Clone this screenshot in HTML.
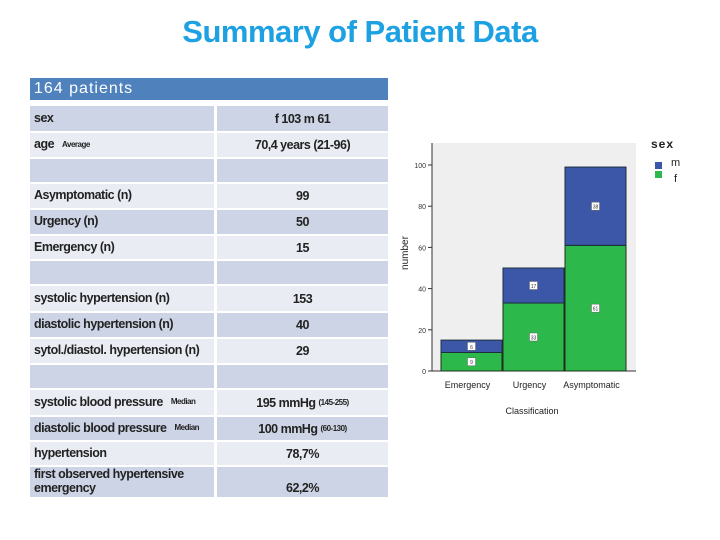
<!DOCTYPE html>
<html><head><meta charset="utf-8"><style>
body{margin:0;width:720px;height:540px;background:#fff;position:relative;overflow:hidden;font-family:"Liberation Sans",sans-serif}
.t{position:absolute;left:0;width:720px;top:14px;text-align:center;font-size:31px;color:#1da1e2;font-weight:bold;letter-spacing:-0.5px}
.c{position:absolute;box-sizing:border-box;font-size:12.5px;font-weight:bold;color:#222;display:flex;align-items:center;letter-spacing:-0.5px}
.l{left:30px;width:184px;padding-left:4px}
.r{left:217px;width:171px;justify-content:center}
.d{background:#cdd4e5}.w{background:#e9ecf3}
small{font-size:8px;margin-left:8px}
</style></head><body>
<div class="t">Summary of Patient Data</div>
<div class="c" style="left:30px;width:358px;top:78px;height:22px;background:#4f81bd;color:#fff;font-weight:normal;font-size:16px;padding-left:4px;letter-spacing:1px">164 patients</div>
<div id="tbl"></div>
<svg id="ch" width="720" height="540" style="position:absolute;left:0;top:0"></svg>
<script>
const rows=[["sex","f 103  m 61"],["age<small>Average</small>","70,4 years (21-96)"],["",""],["Asymptomatic (n)","99"],["Urgency (n)","50"],["Emergency (n)","15"],["",""],["systolic hypertension (n)","153"],["diastolic hypertension (n)","40"],["sytol./diastol. hypertension (n)","29"],["",""],["systolic blood pressure<small>Median</small>","195 mmHg <small style='margin-left:3px'>(145-255)</small>"],["diastolic blood pressure<small>Median</small>","100 mmHg <small style='margin-left:3px'>(60-130)</small>"],["hypertension","78,7%"],["first observed hypertensive<br>emergency","62,2%"]];
const tops=[106,133,159,184,210,236,261,286,313,339,365,390,417,442,467];
const bots=[131,157,182,208,234,259,284,311,337,363,388,415,440,465,497];
let h="";
rows.forEach((r,i)=>{const cls=i%2==0?"d":"w";const st=`top:${tops[i]}px;height:${bots[i]-tops[i]}px`;
const ra=i==14?"align-items:flex-end;padding-bottom:2px;":"";
h+=`<div class="c l ${cls}" style="${st};line-height:1.1">${r[0]}</div><div class="c r ${cls}" style="${st};${ra}">${r[1]}</div>`;});
document.getElementById("tbl").innerHTML=h;

const categories=["Emergency","Urgency","Asymptomatic"];
const femaleVals=[9,33,61];
const maleVals=[6,17,38];
const yTicks=[0,20,40,60,80,100];
const svg=document.getElementById("ch");const NS="http://www.w3.org/2000/svg";
const X0=432,X1=636,Y0=371,Yt=143;
const y=v=>Y0-v*2.06;
const bx=i=>441+i*62;const bw=61;
function mk(t,a,txt){const e=document.createElementNS(NS,t);for(const k in a)e.setAttribute(k,a[k]);if(txt!==undefined)e.textContent=txt;svg.appendChild(e);return e;}
let e=mk("rect",{x:X0,y:Yt,width:X1-X0,height:Y0-Yt,fill:"#efefef"});


mk("line",{x1:X0,y1:Yt,x2:X0,y2:Y0,stroke:"#333"});
mk("line",{x1:X0,y1:Y0,x2:X1,y2:Y0,stroke:"#333"});
yTicks.forEach(t=>{mk("line",{x1:X0-4,y1:y(t),x2:X0,y2:y(t),stroke:"#333"});
e=mk("text",{x:X0-6,y:y(t)+3,"font-size":7,"text-anchor":"end",fill:"#333"},t);

});
categories.forEach((c,i)=>{
e=mk("rect",{x:bx(i),y:y(femaleVals[i]),width:bw,height:femaleVals[i]*2.06,fill:"#2db84b",stroke:"#1e2e1e"});


e=mk("rect",{x:bx(i),y:y(femaleVals[i]+maleVals[i]),width:bw,height:maleVals[i]*2.06,fill:"#3d57a8",stroke:"#1e2e3e"});


[[femaleVals[i]/2,femaleVals[i]],[femaleVals[i]+maleVals[i]/2,maleVals[i]]].forEach(p=>{
mk("rect",{x:bx(i)+bw/2-4,y:y(p[0])-4,width:8,height:8,fill:"#fff",stroke:"#666","stroke-width":0.5});
e=mk("text",{x:bx(i)+bw/2,y:y(p[0])+2.5,"font-size":5,"text-anchor":"middle",fill:"#333"},p[1]);

});
e=mk("text",{x:bx(i)+bw/2-4,y:388,"font-size":9,"text-anchor":"middle",fill:"#222"},c);

});
e=mk("text",{x:532,y:414,"font-size":9,"text-anchor":"middle",fill:"#222"},"Classification");


e=mk("text",{x:0,y:0,"font-size":10,"text-anchor":"middle",fill:"#222",transform:"translate(408,253) rotate(-90)"},"number");


e=mk("text",{x:651,y:148,"font-size":12,fill:"#222","font-weight":"bold","letter-spacing":"1"},"sex");


mk("rect",{x:655,y:162,width:7,height:7,fill:"#3d57a8"});
mk("rect",{x:655,y:171,width:7,height:7,fill:"#2db84b"});
e=mk("text",{x:671,y:166,"font-size":11,fill:"#222"},"m");


e=mk("text",{x:674,y:182,"font-size":11,fill:"#222"},"f");


</script>
</body></html>
